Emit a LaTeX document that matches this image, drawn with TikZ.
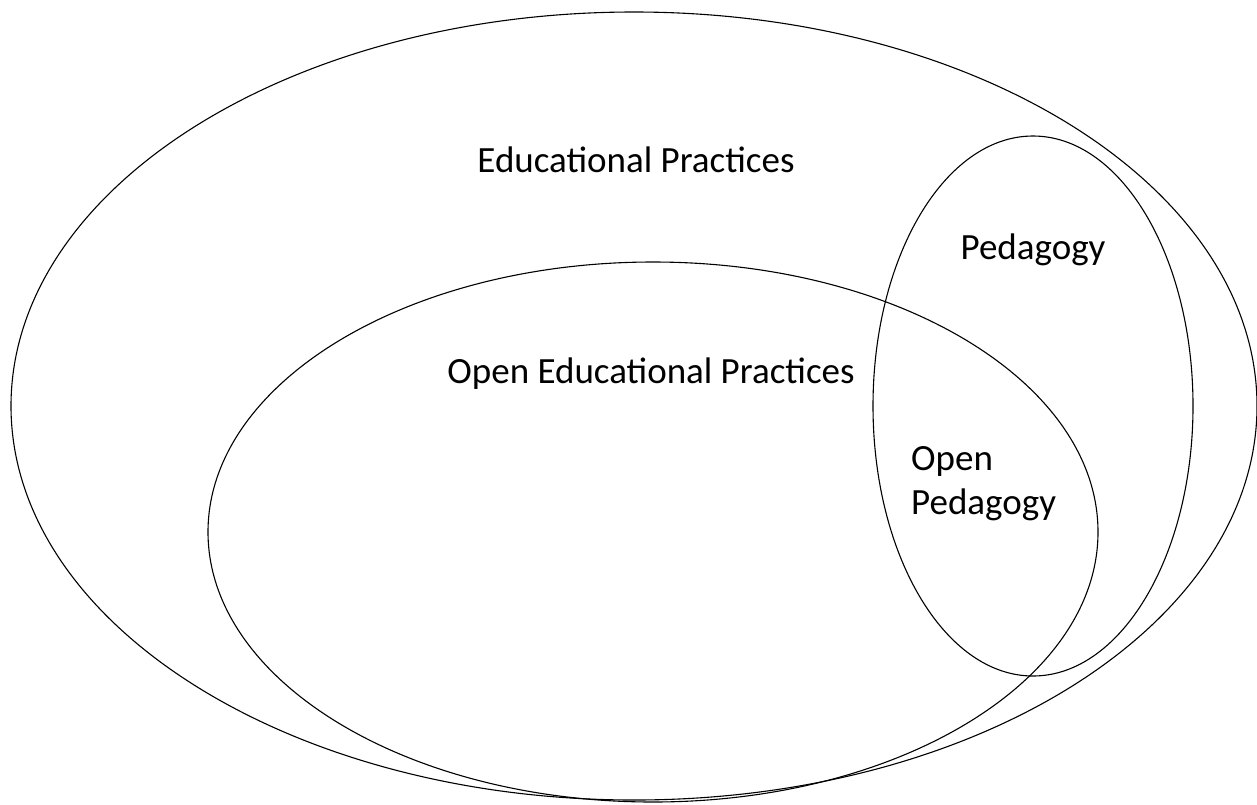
\documentclass[tikz,border=0pt]{standalone}
\usepackage{fontspec}
\setmainfont{Carlito}
\usetikzlibrary{positioning}

\tikzset{
    setline/.style={line width=1.1pt, black},
    setlabel/.style={font=\fontsize{37}{44}\selectfont, inner sep=0pt}
}

\begin{document}
\begin{tikzpicture}[x=1pt, y=-1pt]
    \useasboundingbox (0, 0) rectangle (1257, 804);

    % Educational practices (outer set)
    \draw [setline] (634, 406) ellipse [x radius=623, y radius=394];

    % Open educational practices
    \draw [setline] (653, 532) ellipse [x radius=445, y radius=270];

    % Pedagogy
    \draw [setline] (1033, 406) ellipse [x radius=160, y radius=270];

    % Labels
    \node [setlabel] (edu) at (636, 160) {Educational Practices};
    \node [setlabel] (ped) at (1033, 250) {Pedagogy};
    \node [setlabel] (oep) at (651, 374) {Open Educational Practices};
    \node [setlabel, align=left, anchor=west] (openped) at (911, 484) {Open\\Pedagogy};
\end{tikzpicture}
\end{document}
